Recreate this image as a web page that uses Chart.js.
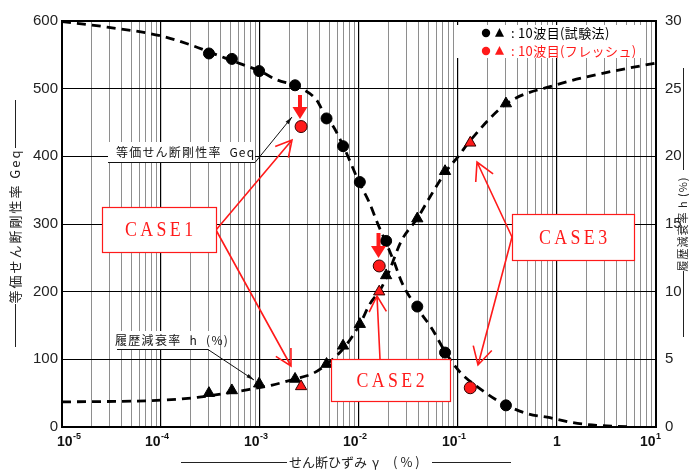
<!DOCTYPE html>
<html lang="ja">
<head>
<meta charset="utf-8">
<title>せん断ひずみ依存性</title>
<script src="https://cdn.jsdelivr.net/npm/chart.js@4/dist/chart.umd.min.js"></script>
<style>
  body { margin: 0; background: #fff; }
  canvas { display: block; }
</style>
</head>
<body>
<canvas id="strainChart" width="689" height="471"></canvas>
<script>
// 10波目(試験法) : strain (%), Geq, h (%)
const testStrain = [3.05e-4, 5.2e-4, 9.8e-4, 2.26e-3, 4.7e-3, 6.9e-3, 1.02e-2, 1.88e-2, 3.88e-2, 7.4e-2, 0.305];
const testGeq = [552, 544, 526, 505, 456, 415, 362, 275, 178, 110, 32];
const testH = [2.5, 2.7, 3.2, 3.55, 4.65, 6.0, 7.6, 11.2, 15.4, 18.9, 23.9];

// 10波目(フレッシュ) : CASE1, CASE2, CASE3
const freshStrain = [2.6e-3, 1.6e-2, 0.133];
const freshGeq = [444, 238, 58];
const freshH = [3.0, 10.0, 21.0];

// dashed curves
const geqCurveStrain = [1e-5, 2.85e-5, 1e-4, 1.96e-4, 3.66e-4, 6.28e-4, 1e-3, 1.48e-3, 2.26e-3, 2.73e-3, 3.74e-3, 4.7e-3, 5.5e-3, 7e-3,
  1e-2, 1.26e-2, 1.55e-2, 1.88e-2, 2.26e-2, 2.72e-2, 3.86e-2, 5.42e-2, 7.5e-2, 0.105, 0.173, 0.266, 0.494, 0.85, 1.44, 2.5, 5.2];
const geqCurve = [599, 591, 578, 565, 550, 537, 526, 513, 505, 499, 483, 456, 444, 414,
  362, 333, 300, 272, 244, 213, 176, 146, 110, 81, 55, 37, 20, 13.7, 6.5, 2.5, 0.5];

const hCurveStrain = [1e-5, 1e-4, 2.33e-4, 4.1e-4, 6.9e-4, 1.33e-3, 2.26e-3, 3.45e-3, 4.65e-3, 6.95e-3, 1.02e-2, 1.29e-2, 1.63e-2,
  1.91e-2, 2.7e-2, 3.87e-2, 5.21e-2, 7.57e-2, 0.1007, 0.134, 0.31, 1, 3.2, 10];
const hCurve = [1.85, 1.98, 2.19, 2.44, 2.71, 3.10, 3.55, 3.97, 4.6, 5.8, 7.6, 9.1, 10.1,
  11.1, 13.8, 15.4, 17.0, 18.9, 20.0, 21.2, 23.9, 25.3, 26.2, 26.9];

// axes
const xDecades = [1e-5, 1e-4, 1e-3, 1e-2, 1e-1, 1, 10];
const xTickBase = ['10', '10', '10', '10', '10', '1', '10'];
const xTickExp = ['-5', '-4', '-3', '-2', '-1', '', '1'];
const minorSteps = [2, 3, 4, 5, 6, 7, 8, 9];

const gridValues = [];
xDecades.forEach((d, i) => {
  gridValues.push(d);
  if (i < xDecades.length - 1) minorSteps.forEach(m => gridValues.push(d * m));
});

const isDecade = v => v > 0 && Math.abs(Math.log10(v) - Math.round(Math.log10(v))) < 1e-6;
const toXY = (xs, ys) => xs.map((x, i) => ({ x: x, y: ys[i] }));

const JP = '"Noto Sans CJK JP", sans-serif';
const NARROW = '"Liberation Sans Narrow", "Liberation Sans", "DejaVu Sans", sans-serif';
const RED = '#ff1a1a';

function openArrow(ctx, x1, y1, x2, y2, len, ang) {
  const t = Math.atan2(y2 - y1, x2 - x1);
  ctx.beginPath();
  ctx.moveTo(x1, y1);
  ctx.lineTo(x2, y2);
  ctx.moveTo(x2 - len * Math.cos(t - ang), y2 - len * Math.sin(t - ang));
  ctx.lineTo(x2, y2);
  ctx.lineTo(x2 - len * Math.cos(t + ang), y2 - len * Math.sin(t + ang));
  ctx.stroke();
}

function leader(ctx, x1, y1, x2, y2) {
  const t = Math.atan2(y2 - y1, x2 - x1);
  ctx.beginPath();
  ctx.moveTo(x1, y1);
  ctx.lineTo(x2, y2);
  ctx.stroke();
  ctx.beginPath();
  ctx.moveTo(x2, y2);
  ctx.lineTo(x2 - 8 * Math.cos(t - 0.25), y2 - 8 * Math.sin(t - 0.25));
  ctx.lineTo(x2 - 8 * Math.cos(t + 0.25), y2 - 8 * Math.sin(t + 0.25));
  ctx.closePath();
  ctx.fill();
}

function downArrow(ctx, x, yTop, yTip) {
  ctx.fillStyle = RED;
  ctx.fillRect(x - 2, yTop, 4, yTip - yTop - 10);
  ctx.beginPath();
  ctx.moveTo(x - 7.5, yTip - 12);
  ctx.lineTo(x + 7.5, yTip - 12);
  ctx.lineTo(x, yTip);
  ctx.closePath();
  ctx.fill();
}

function caseBox(ctx, x, y, w, h, label) {
  ctx.fillStyle = '#fff';
  ctx.fillRect(x, y, w, h);
  ctx.strokeStyle = RED;
  ctx.lineWidth = 1.2;
  ctx.strokeRect(x + 0.5, y + 0.5, w, h);
  ctx.save();
  ctx.fillStyle = RED;
  ctx.font = '21px "Liberation Serif", serif';
  ctx.letterSpacing = '4px';
  ctx.textBaseline = 'middle';
  ctx.translate(x + w / 2, y + h / 2 + 1);
  ctx.scale(0.85, 1);
  const tw = ctx.measureText(label).width - 4;
  ctx.fillText(label, -tw / 2, 0);
  ctx.restore();
}

function vText(ctx, text, cx, cy, font, spacing) {
  ctx.save();
  ctx.translate(cx, cy);
  ctx.rotate(-Math.PI / 2);
  ctx.font = font;
  ctx.letterSpacing = spacing;
  ctx.textAlign = 'center';
  ctx.textBaseline = 'middle';
  ctx.fillText(text, 0, 0);
  ctx.restore();
}

const decor = {
  id: 'decor',
  beforeDraw(chart) {
    const ctx = chart.ctx;
    ctx.save();
    ctx.fillStyle = '#fff';
    ctx.fillRect(0, 0, chart.width, chart.height);
    ctx.restore();
  },
  afterDraw(chart) {
    const { ctx, chartArea: a } = chart;
    const xs = chart.scales.x;
    ctx.save();

    // frame
    ctx.strokeStyle = '#000';
    ctx.lineWidth = 2;
    ctx.strokeRect(a.left, a.top, a.right - a.left, a.bottom - a.top);

    // x tick labels 10^n
    ctx.fillStyle = '#111';
    ctx.textBaseline = 'middle';
    xDecades.forEach((v, i) => {
      const px = xs.getPixelForValue(v);
      ctx.font = 'bold 14px ' + NARROW;
      const wb = ctx.measureText(xTickBase[i]).width;
      let left;
      if (!xTickExp[i]) left = px - wb / 2;
      else if (i === 0) left = px - 5;
      else left = px - wb - 0.5;
      ctx.fillText(xTickBase[i], left, 442);
      if (xTickExp[i]) {
        ctx.font = 'bold 9px ' + NARROW;
        ctx.fillText(xTickExp[i], left + wb + 0.5, 437);
      }
    });

    // axis titles
    ctx.fillStyle = '#222';
    ctx.strokeStyle = '#222';
    ctx.lineWidth = 1;
    ctx.font = '13px ' + JP;
    ctx.textAlign = 'left';
    ctx.fillText('せん断ひずみ', 289, 462);
    ctx.fillText('γ', 372, 462);
    ctx.save();
    ctx.letterSpacing = '3px';
    ctx.fillText('(%)', 393, 462);
    ctx.restore();
    ctx.beginPath();
    ctx.moveTo(181, 462.5); ctx.lineTo(287, 462.5);
    ctx.moveTo(432, 462.5); ctx.lineTo(511, 462.5);
    ctx.stroke();

    vText(ctx, '等価せん断剛性率 Geq', 15, 226, '13px ' + JP, '2px');
    ctx.beginPath();
    ctx.moveTo(15.5, 100); ctx.lineTo(15.5, 148);
    ctx.moveTo(15.5, 304); ctx.lineTo(15.5, 347);
    ctx.stroke();

    vText(ctx, '履歴減衰率 h (%)', 683, 224, '11px ' + JP, '1px');
    ctx.beginPath();
    ctx.moveTo(683.5, 68); ctx.lineTo(683.5, 170);
    ctx.moveTo(683.5, 271); ctx.lineTo(683.5, 337);
    ctx.stroke();

    // legend
    ctx.fillStyle = '#fff';
    ctx.fillRect(457, 25, 184, 33);
    [['#000', '10波目(試験法)', 33], [RED, '10波目(フレッシュ)', 51]].forEach(([col, txt, y]) => {
      ctx.fillStyle = col;
      ctx.beginPath();
      ctx.arc(486, y, 4.2, 0, Math.PI * 2);
      ctx.fill();
      ctx.beginPath();
      ctx.moveTo(499.5, y - 5);
      ctx.lineTo(504, y + 3.8);
      ctx.lineTo(495, y + 3.8);
      ctx.closePath();
      ctx.fill();
      ctx.save();
      ctx.font = '13px ' + JP;
      ctx.letterSpacing = '0.4px';
      ctx.textBaseline = 'middle';
      ctx.fillText(':', 511, y);
      ctx.fillText(txt, 518, y);
      ctx.restore();
    });

    // label: Geq
    ctx.fillStyle = '#fff';
    ctx.fillRect(108, 142, 147, 20);
    ctx.fillStyle = '#111';
    ctx.save();
    ctx.font = '12px ' + JP;
    ctx.letterSpacing = '1.2px';
    ctx.fillText('等価せん断剛性率  Geq', 116, 152);
    ctx.restore();
    ctx.strokeStyle = '#111';
    ctx.lineWidth = 1;
    ctx.beginPath();
    ctx.moveTo(108, 162.5); ctx.lineTo(255, 162.5);
    ctx.stroke();
    leader(ctx, 255, 162.5, 292, 117);

    // label: h
    ctx.fillStyle = '#fff';
    ctx.fillRect(113, 331, 103, 18);
    ctx.fillStyle = '#111';
    ctx.save();
    ctx.font = '12px ' + JP;
    ctx.letterSpacing = '1.3px';
    ctx.fillText('履歴減衰率  h  (%)', 115, 340.5);
    ctx.restore();
    ctx.beginPath();
    ctx.moveTo(117, 349.5); ctx.lineTo(208, 349.5);
    ctx.stroke();
    leader(ctx, 208, 349.5, 254, 380);

    // CASE boxes and arrows
    ctx.lineWidth = 1.6;
    ctx.strokeStyle = RED;
    openArrow(ctx, 216, 230, 292, 140, 18, 0.5);
    openArrow(ctx, 216, 230, 291, 366, 18, 0.5);
    openArrow(ctx, 380, 359, 377, 296, 18, 0.5);
    openArrow(ctx, 512, 237, 477, 162, 20, 0.5);
    openArrow(ctx, 512, 237, 478, 365, 20, 0.5);
    caseBox(ctx, 102, 207, 114, 45, 'CASE1');
    caseBox(ctx, 331, 359, 119, 42, 'CASE2');
    caseBox(ctx, 512, 214, 122, 46, 'CASE3');

    downArrow(ctx, 300, 95, 119);
    downArrow(ctx, 378.5, 233, 258);

    ctx.restore();
  }
};

new Chart(document.getElementById('strainChart'), {
  type: 'scatter',
  data: {
    datasets: [
      {
        label: 'Geq 10波目(フレッシュ)',
        data: toXY(freshStrain, freshGeq),
        yAxisID: 'y',
        pointStyle: 'circle',
        pointRadius: 6,
        backgroundColor: RED,
        borderColor: '#330000',
        borderWidth: 1,
        order: 0
      },
      {
        label: 'h 10波目(フレッシュ)',
        data: toXY(freshStrain, freshH),
        yAxisID: 'y2',
        pointStyle: 'triangle',
        pointRadius: 6.5,
        backgroundColor: RED,
        borderColor: '#330000',
        borderWidth: 1,
        order: 0
      },
      {
        label: 'Geq 10波目(試験法)',
        data: toXY(testStrain, testGeq),
        yAxisID: 'y',
        pointStyle: 'circle',
        pointRadius: 5.5,
        backgroundColor: '#000',
        borderColor: '#000',
        order: 1
      },
      {
        label: 'h 10波目(試験法)',
        data: toXY(testStrain, testH),
        yAxisID: 'y2',
        pointStyle: 'triangle',
        pointRadius: 6.5,
        backgroundColor: '#000',
        borderColor: '#000',
        order: 1
      },
      {
        label: 'Geq curve',
        data: toXY(geqCurveStrain, geqCurve),
        yAxisID: 'y',
        showLine: true,
        borderColor: '#000',
        borderWidth: 2.8,
        borderDash: [9, 6],
        pointRadius: 0,
        cubicInterpolationMode: 'monotone',
        order: 2
      },
      {
        label: 'h curve',
        data: toXY(hCurveStrain, hCurve),
        yAxisID: 'y2',
        showLine: true,
        borderColor: '#000',
        borderWidth: 2.8,
        borderDash: [9, 6],
        pointRadius: 0,
        cubicInterpolationMode: 'monotone',
        order: 2
      }
    ]
  },
  options: {
    responsive: false,
    animation: false,
    layout: { padding: { top: 21, left: 0, right: 0, bottom: 0 } },
    plugins: {
      legend: { display: false },
      tooltip: { enabled: false }
    },
    scales: {
      x: {
        type: 'logarithmic',
        position: 'bottom',
        min: 1e-5,
        max: 10,
        afterBuildTicks: s => { s.ticks = gridValues.map(v => ({ value: v })); },
        afterFit: s => { s.height = 44; },
        ticks: { display: false, autoSkip: false },
        grid: {
          drawTicks: false,
          color: c => (c.tick && isDecade(c.tick.value)) ? '#000' : '#8e8e8e',
          lineWidth: c => (c.tick && isDecade(c.tick.value)) ? 1.2 : 1
        },
        border: { color: '#000', width: 2 }
      },
      y: {
        position: 'left',
        min: 0,
        max: 600,
        afterFit: s => { s.width = 62; },
        ticks: { stepSize: 100, padding: 4, color: '#222', font: { family: NARROW, size: 15 } },
        grid: { color: '#000', lineWidth: 1, drawTicks: false },
        border: { color: '#000', width: 2 }
      },
      y2: {
        position: 'right',
        min: 0,
        max: 30,
        afterFit: s => { s.width = 33; },
        ticks: { stepSize: 5, padding: 9, color: '#222', font: { family: NARROW, size: 15 } },
        grid: { drawOnChartArea: false, drawTicks: false },
        border: { color: '#000', width: 2 }
      }
    }
  },
  plugins: [decor]
});
</script>
</body>
</html>
